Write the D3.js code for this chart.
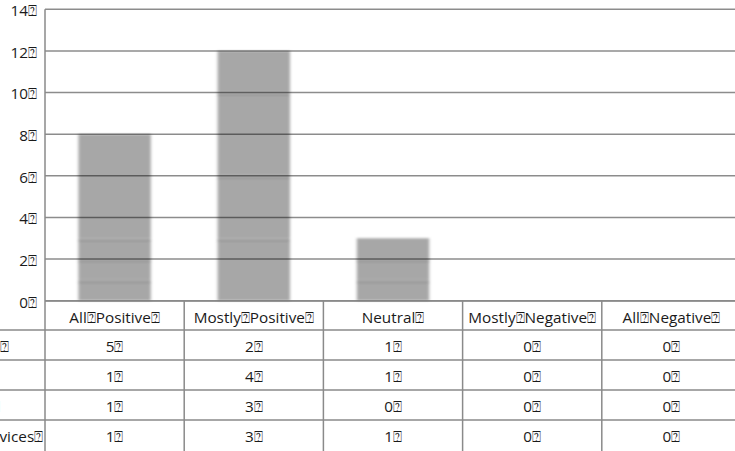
<!DOCTYPE html>
<html>
<head>
<meta charset="utf-8">
<script src="https://cdn.jsdelivr.net/npm/d3@7"></script>
<style>
  html, body { margin: 0; padding: 0; background: #fff; }
  svg { display: block; font-family: "Open Sans", "Noto Sans", sans-serif; }
</style>
</head>
<body>
<svg id="chart" width="735" height="451"></svg>
<script>
// Response categories (column headers of the data table)
const categories = ["All⍰Positive⍰", "Mostly⍰Positive⍰", "Neutral⍰", "Mostly⍰Negative⍰", "All⍰Negative⍰"];
// Row names of the data table
const seriesNames = ["Residents⍰", "Staff⍰", "Coaches⍰", "Social Services⍰"];
// Counts per category for each row
const series1 = [5, 2, 1, 0, 0];
const series2 = [1, 4, 1, 0, 0];
const series3 = [1, 3, 0, 0, 0];
const series4 = [1, 3, 1, 0, 0];
const yTicks = [0, 2, 4, 6, 8, 10, 12, 14];
const tickLabels = ["0⍰", "2⍰", "4⍰", "6⍰", "8⍰", "10⍰", "12⍰", "14⍰"];

const seriesValues = [series1, series2, series3, series4];
const keys = seriesNames.map((_, i) => "s" + i);
const rows = categories.map((c, j) => {
  const r = { category: c };
  keys.forEach((k, i) => { r[k] = seriesValues[i][j]; });
  return r;
});

const W = 735, H = 451;
const FS = 15.3;
const plot = { left: 45, right: 741, top: 9.3, bottom: 300.7 };
const table = { top: 301, header: 29, row: 30, labelX: 43.2 };

const svg = d3.select("#chart");

const x = d3.scaleBand().domain(categories).range([plot.left, plot.right]).padding(0);
const barW = x.bandwidth() * 0.52;
const y = d3.scaleLinear().domain([0, 14]).range([plot.bottom, plot.top]);

// Stacked bars: last row sits at the bottom of each stack
const stacked = d3.stack().keys(keys).order(d3.stackOrderReverse)(rows);

const defs = svg.append("defs");
defs.append("filter").attr("id", "soft")
  .attr("x", "-10%").attr("y", "-10%").attr("width", "120%").attr("height", "120%")
  .append("feGaussianBlur").attr("stdDeviation", "1.8 1.3");

const barsG = svg.append("g").attr("filter", "url(#soft)");
stacked.forEach(layer => {
  barsG.selectAll(null).data(layer.filter(d => d[1] > d[0])).enter().append("rect")
    .attr("x", d => x(d.data.category) + (x.bandwidth() - barW) / 2)
    .attr("width", barW)
    .attr("y", d => y(d[1]))
    .attr("height", d => y(d[0]) - y(d[1]))
    .attr("fill", "#a7a7a7");
});
// faint seams between stacked segments
stacked.forEach(layer => {
  barsG.selectAll(null).data(layer.filter(d => d[1] > d[0] && d[0] > 0)).enter().append("line")
    .attr("x1", d => x(d.data.category) + (x.bandwidth() - barW) / 2)
    .attr("x2", d => x(d.data.category) + (x.bandwidth() + barW) / 2)
    .attr("y1", d => y(d[0]) + 2.5).attr("y2", d => y(d[0]) + 2.5)
    .attr("stroke", "#9a9a9a").attr("stroke-width", 2);
});

// Horizontal gridlines drawn over the bars
svg.append("g").selectAll("line").data(yTicks).enter().append("line")
  .attr("x1", plot.left).attr("x2", W)
  .attr("y1", d => y(d)).attr("y2", d => y(d))
  .attr("stroke", "#000").attr("stroke-opacity", 0.45).attr("stroke-width", 1.4);

// Y tick labels
svg.append("g").selectAll("text").data(yTicks).enter().append("text")
  .attr("x", 37).attr("y", d => y(d)).attr("dy", "0.45em")
  .attr("text-anchor", "end").attr("font-size", FS).attr("fill", "#1a1a1a")
  .text((d, i) => tickLabels[i]);

// Y axis line, continuing down as the table's left border
const lineColor = "#8a8a8a";
svg.append("line").attr("x1", plot.left).attr("x2", plot.left)
  .attr("y1", plot.top).attr("y2", H)
  .attr("stroke", lineColor).attr("stroke-width", 1.5);

// Data table
const tg = svg.append("g");
const rowTop = i => table.top + table.header + i * table.row;
// header top border
tg.append("line").attr("x1", plot.left).attr("x2", W)
  .attr("y1", table.top).attr("y2", table.top)
  .attr("stroke", lineColor).attr("stroke-width", 1.5);
// row borders
tg.selectAll(null).data(d3.range(seriesNames.length)).enter().append("line")
  .attr("x1", 0).attr("x2", W)
  .attr("y1", i => rowTop(i)).attr("y2", i => rowTop(i))
  .attr("stroke", lineColor).attr("stroke-width", 1.5);
// column borders
tg.selectAll(null).data(categories.slice(1)).enter().append("line")
  .attr("x1", d => x(d)).attr("x2", d => x(d))
  .attr("y1", table.top).attr("y2", H)
  .attr("stroke", lineColor).attr("stroke-width", 1.5);

// header labels
tg.selectAll(null).data(categories).enter().append("text")
  .attr("x", d => x(d) + x.bandwidth() / 2)
  .attr("y", table.top + table.header / 2 + 1).attr("dy", "0.4em")
  .attr("text-anchor", "middle").attr("font-size", FS).attr("fill", "#1a1a1a")
  .text(d => d);

// cell values
seriesValues.forEach((vals, i) => {
  tg.selectAll(null).data(vals).enter().append("text")
    .attr("x", (d, j) => x(categories[j]) + x.bandwidth() / 2)
    .attr("y", rowTop(i) + table.row / 2 + 1).attr("dy", "0.4em")
    .attr("text-anchor", "middle").attr("font-size", FS).attr("fill", "#1a1a1a")
    .text(d => d + "⍰");
});

// row names, left aligned in a column that starts left of the view
const names = tg.append("g").selectAll(null).data(seriesNames).enter().append("text")
  .attr("y", (d, i) => rowTop(i) + table.row / 2 + 1).attr("dy", "0.4em")
  .attr("font-size", FS).attr("fill", "#1a1a1a")
  .text(d => d);
const widest = d3.max(names.nodes(), n => n.getComputedTextLength());
names.attr("x", table.labelX - widest);
</script>
</body>
</html>
